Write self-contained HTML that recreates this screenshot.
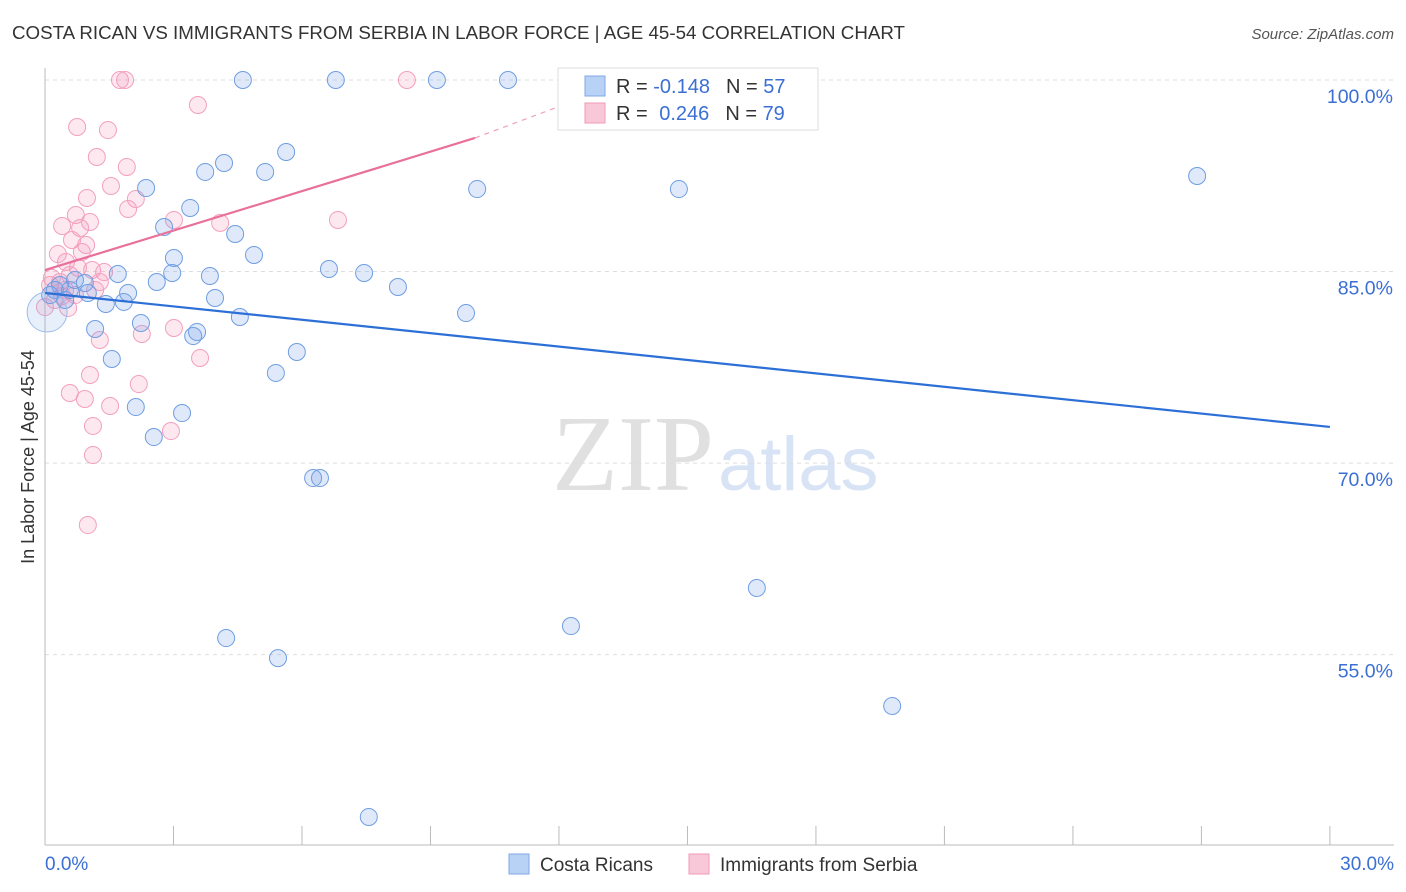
<!DOCTYPE html>
<html><head><meta charset="utf-8"><style>
body{margin:0;background:#fff;font-family:"Liberation Sans",sans-serif}
svg{display:block}
</style></head><body>
<svg id="c" width="1406" height="892">
<text x="12" y="39" font-size="18" fill="#333" textLength="893" lengthAdjust="spacingAndGlyphs">COSTA RICAN VS IMMIGRANTS FROM SERBIA IN LABOR FORCE | AGE 45-54 CORRELATION CHART</text>
<text x="1394" y="39" font-size="15" fill="#555" font-style="italic" text-anchor="end">Source: ZipAtlas.com</text>
<text x="714" y="490" font-size="108" fill="#e0e0e0" text-anchor="end" font-family="Liberation Serif,serif">ZIP</text>
<text x="718" y="490" font-size="76" fill="#d8e4f6">atlas</text>
<g id="grid"></g><g id="pts"></g><g id="lines"></g>
<text transform="translate(34,457) rotate(-90)" font-size="18" fill="#333" text-anchor="middle">In Labor Force | Age 45-54</text>
<text x="45" y="870" font-size="19" fill="#3b6fd4">0.0%</text>
<text x="1394" y="870" font-size="19" fill="#3b6fd4" text-anchor="end">30.0%</text>
<g>
<rect x="558" y="68" width="260" height="62" fill="#fff" stroke="#ddd"/>
<rect x="585" y="76" width="20" height="20" fill="#b8d2f5" stroke="#7fa8e6"/>
<rect x="585" y="103" width="20" height="20" fill="#f9c8d8" stroke="#f09ab6"/>
<text x="616" y="93" font-size="20" fill="#333">R = <tspan fill="#3b6fd4">-0.148</tspan><tspan dx="16">N = </tspan><tspan fill="#3b6fd4">57</tspan></text>
<text x="616" y="120" font-size="20" fill="#333">R = <tspan fill="#3b6fd4" dx="6">0.246</tspan><tspan dx="16">N = </tspan><tspan fill="#3b6fd4">79</tspan></text>
</g>
<g>
<rect x="509" y="854" width="20" height="20" fill="#b8d2f5" stroke="#7fa8e6"/>
<text x="540" y="871" font-size="19" fill="#333">Costa Ricans</text>
<rect x="689" y="854" width="20" height="20" fill="#f9c8d8" stroke="#f09ab6"/>
<text x="720" y="871" font-size="19" fill="#333">Immigrants from Serbia</text>
</g>
</svg>
<script>
const yTicks=[100,85,70,55];
const yTickLabels=["100.0%","85.0%","70.0%","55.0%"];
const blueX=[4.62,6.79,9.15,10.81,5.63,4.18,3.74,5.14,2.36,10.09,14.80,26.90,3.39,2.78,4.44,4.88,3.01,6.63,7.45,2.97,3.85,2.61,1.70,8.24,1.94,1.00,3.97,1.42,1.84,9.83,4.55,2.24,1.17,3.55,3.46,5.88,1.56,5.39,2.12,3.20,2.54,6.26,6.42,16.62,12.28,4.23,5.44,19.78,7.56,0.35,0.58,0.12,0.70,0.47,0.93,0.23];
const blueY=[100,100,100,100,94.36,93.50,92.80,92.80,91.54,91.46,91.46,92.48,89.98,88.49,87.94,86.30,86.06,85.20,84.89,84.89,84.65,84.18,84.81,83.79,83.32,83.32,82.93,82.46,82.62,81.75,81.44,80.97,80.50,80.27,79.95,78.70,78.15,77.06,74.39,73.92,72.04,68.83,68.83,60.22,57.24,56.30,54.73,50.98,42.29,83.95,83.56,83.16,84.34,82.77,84.10,83.56];
const pinkX=[1.75,1.87,8.45,3.57,0.75,1.47,1.21,1.91,1.54,0.98,2.12,1.94,3.01,4.09,6.84,0.72,1.05,0.40,0.82,0.96,0.63,0.86,0.30,0.49,1.10,1.38,0.58,0.35,1.28,0.12,0.47,0.70,0.23,0.54,0.00,2.26,3.01,1.28,3.62,1.05,2.19,0.58,0.93,1.52,1.12,2.94,1.12,1.00,0.16,0.77,1.17,0.40];
const pinkY=[100,100,100,98.04,96.32,96.08,93.97,93.19,91.70,90.76,90.68,89.90,89.04,88.81,89.04,89.43,88.88,88.57,88.41,87.08,87.47,86.53,86.37,85.75,85.12,84.96,84.73,84.18,84.18,83.95,83.56,83.16,82.77,82.15,82.22,80.11,80.58,79.64,78.23,76.90,76.19,75.49,75.02,74.47,72.91,72.51,70.63,65.15,84.5,85.3,83.56,83.08];
const blueTrend=[83.32,72.83];
const pinkTrend=[85.12,95.46,98.83];
const pinkTrendX=[0,10.04,12.73];
const X=v=>45+v*42.83, Y=v=>80+(100-v)*12.77;
const NS="http://www.w3.org/2000/svg";
function mk(t,a,p){const e=document.createElementNS(NS,t);for(const k in a)e.setAttribute(k,a[k]);p.appendChild(e);return e;}
const g=document.getElementById('grid');
yTicks.forEach((t,i)=>{
 const l=mk('line',{x1:45,x2:1394,y1:Y(t),y2:Y(t),stroke:'#ddd','stroke-dasharray':'4,4'},g);
 
 
 const tx=mk('text',{x:1393,y:Y(t)+23,'font-size':19.5,fill:'#3b6fd4','text-anchor':'end'},g);
 tx.textContent=yTickLabels[i];
 
 
});
const ax=mk('line',{x1:45,x2:45,y1:68,y2:845,stroke:'#bbb'},g);


const bx=mk('line',{x1:45,x2:1394,y1:845,y2:845,stroke:'#bbb'},g);


for(let i=0;i<=10;i++){const t=mk('line',{x1:X(i*3),x2:X(i*3),y1:826,y2:845,stroke:'#bbb'},g);
 
 }
const p=document.getElementById('pts');
pinkX.forEach((x,i)=>{const c=mk('circle',{cx:X(x),cy:Y(pinkY[i]),r:8.5,fill:'rgba(244,150,185,0.22)',stroke:'#f2a0bd','stroke-width':1},p);
 
 });
blueX.forEach((x,i)=>{const c=mk('circle',{cx:X(x),cy:Y(blueY[i]),r:8.5,fill:'rgba(120,165,235,0.24)',stroke:'#6f9ee2','stroke-width':1},p);
 
 });
const big=mk('circle',{cx:X(0.05),cy:Y(81.83),r:20,fill:'rgba(120,165,235,0.18)',stroke:'#9dbdea','stroke-width':1},p);


const L=document.getElementById('lines');
const b=mk('line',{x1:X(0),y1:Y(blueTrend[0]),x2:X(30),y2:Y(blueTrend[1]),stroke:'#2c6fd6','stroke-width':2.2},L);


const pk=mk('line',{x1:X(pinkTrendX[0]),y1:Y(pinkTrend[0]),x2:X(pinkTrendX[1]),y2:Y(pinkTrend[1]),stroke:'#e8709a','stroke-width':2.2},L);


const pd=mk('line',{x1:X(pinkTrendX[1]),y1:Y(pinkTrend[1]),x2:X(pinkTrendX[2]),y2:Y(pinkTrend[2]),stroke:'#f0a0bc','stroke-width':1.2,'stroke-dasharray':'5,5'},L);


</script>
</body></html>
